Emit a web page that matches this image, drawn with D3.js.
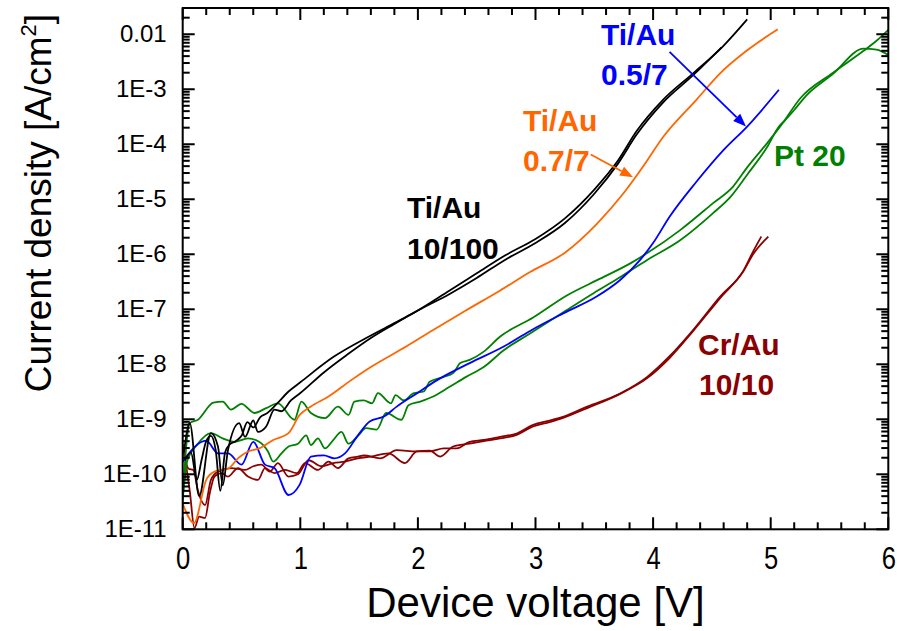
<!DOCTYPE html>
<html><head><meta charset="utf-8">
<script src="https://cdn.jsdelivr.net/npm/d3@7"></script>
<style>
html,body{margin:0;padding:0;background:#fff;}
svg{display:block;font-family:"Liberation Sans",Arial,Helvetica,sans-serif;}
</style></head>
<body>
<svg id="chart" width="897" height="631"></svg>
<script>
// ---------- data (voltage in V, current density in A/cm^2) ----------
const blackA_V = [0.02,0.07,0.12,0.16,0.2,0.24,0.28,0.32,0.36,0.4,0.45,0.5,0.55,0.6,0.66,0.72,0.8,0.9,1.0,1.28,1.56,1.8,1.96,2.27,2.5,2.74,3.0,3.25,3.5,3.7,3.86,4.08,4.34,4.59,4.8];
const blackA_J = [1.8e-10,2.5e-10,7.9e-11,1.8e-10,4.0e-10,5.0e-10,2.8e-10,5.0e-11,2.5e-10,3.5e-10,4.0e-10,5.0e-10,8.9e-10,7.1e-10,1.1e-9,1.3e-9,1.9e-9,3.2e-9,4.7e-9,1.35e-8,3.0e-8,5.6e-8,8.5e-8,2.2e-7,4.5e-7,9.5e-7,1.9e-6,4.5e-6,1.5e-5,5.0e-5,1.74e-4,6.3e-4,1.95e-3,5.9e-3,1.86e-2];

const blackB_V = [0.01,0.06,0.14,0.24,0.3,0.34,0.385,0.48,0.53,0.6,0.64,0.71,0.78,0.84,0.92,1.0,1.2,1.4,1.6,1.8,2.0,2.27,2.5,2.74,3.0,3.25,3.5,3.7,3.86,4.08,4.34,4.58];
const blackB_J = [2.5e-10,8.5e-10,4.0e-11,5.6e-10,3.2e-10,6.3e-11,2.75e-10,8.5e-10,4.8e-10,9.5e-10,5.9e-10,7.4e-10,1.5e-9,1.4e-9,2.2e-9,3.0e-9,7.1e-9,1.5e-8,3.0e-8,5.4e-8,9.5e-8,1.9e-7,3.7e-7,7.9e-7,1.6e-6,3.7e-6,1.26e-5,4.4e-5,1.5e-4,5.6e-4,1.8e-3,5.75e-3];

const orange_V = [0.0,0.096,0.2,0.27,0.385,0.47,0.555,0.65,0.77,0.9,0.995,1.09,1.24,1.43,1.6,1.9,2.13,2.4,2.7,2.95,3.25,3.52,3.75,3.9,4.09,4.37,4.57,4.8,5.06];
const orange_J = [2.95e-11,1.3e-11,7.9e-11,1.12e-10,1.26e-10,1.95e-10,2.6e-10,2.95e-10,4.2e-10,5.6e-10,1.2e-9,1.7e-9,2.6e-9,5.1e-9,8.9e-9,2.1e-8,4.2e-8,9.3e-8,2.2e-7,4.7e-7,1.07e-6,3.55e-6,1.3e-5,3.55e-5,1.4e-4,6.5e-4,1.95e-3,5.1e-3,1.23e-2];

const blue_V = [0.0,0.2,0.3,0.385,0.5,0.6,0.7,0.78,0.9,0.995,1.09,1.2,1.29,1.38,1.49,1.59,1.71,1.82,1.99,2.16,2.44,2.73,2.95,3.24,3.52,3.72,3.89,4.0,4.14,4.37,4.6,4.8,5.07];
const blue_J = [1.7e-10,4.1e-10,2.4e-10,2.4e-10,1.5e-10,3.9e-10,1.5e-10,1.3e-10,4.2e-11,6.5e-11,2.1e-10,2.2e-10,1.95e-10,2.4e-10,5.1e-10,9.1e-10,1.12e-9,1.7e-9,2.95e-9,5.1e-9,1.05e-8,2.1e-8,4.0e-8,8.5e-8,1.7e-7,3.4e-7,7.9e-7,1.6e-6,4.8e-6,2.1e-5,7.9e-5,2.1e-4,9.8e-4];

const greenA_V = [0.0,0.03,0.06,0.13,0.26,0.34,0.41,0.5,0.61,0.71,0.81,0.95,1.01,1.09,1.21,1.32,1.41,1.46,1.54,1.61,1.66,1.77,1.81,1.88,1.96,2.05,2.1,2.22,2.3,2.36,2.44,2.56,2.7,2.98,3.27,3.55,3.81,3.95,4.23,4.51,4.68,4.8,4.97,5.1,5.25,5.53,5.79,5.9,6.0];
const greenA_J = [3.2e-11,3.2e-10,8.5e-10,9.8e-10,2.0e-9,2.1e-9,1.5e-9,1.9e-9,1.3e-9,1.6e-9,1.95e-9,9.8e-10,2.1e-9,1.3e-9,1.05e-9,1.7e-9,1.2e-9,2.1e-9,2.2e-9,1.95e-9,3.0e-9,1.95e-9,2.75e-9,2.2e-9,2.95e-9,3.2e-9,4.8e-9,5.9e-9,6.9e-9,1.05e-8,1.2e-8,1.7e-8,3.2e-8,7.1e-8,1.8e-7,3.6e-7,6.9e-7,1.05e-6,2.75e-6,8.5e-6,1.7e-5,3.8e-5,1.05e-4,2.4e-4,6.8e-4,2.0e-3,5.0e-3,7.6e-3,1.2e-2];

const greenB_V = [0.0,0.04,0.12,0.24,0.34,0.44,0.555,0.65,0.725,0.77,0.84,0.9,0.98,1.05,1.09,1.15,1.21,1.28,1.35,1.41,1.49,1.56,1.65,1.73,1.86,1.92,2.02,2.13,2.27,2.41,2.56,2.73,2.95,3.24,3.5,3.66,3.95,4.23,4.51,4.66,4.8,4.97,5.07,5.12,5.2,5.3,5.53,5.79,5.9,6.0];
const greenB_J = [3.5e-11,1.8e-10,3.4e-10,5.6e-10,4.5e-10,3.9e-10,4.5e-10,3.9e-10,2.6e-10,1.7e-10,2.4e-10,3.2e-10,3.6e-10,5.1e-10,3.4e-10,4.5e-10,2.95e-10,4.2e-10,5.9e-10,3.6e-10,5.0e-10,6.9e-10,6.5e-10,1.3e-9,9.8e-10,1.8e-9,2.1e-9,2.6e-9,3.9e-9,5.9e-9,8.9e-9,1.8e-8,3.6e-8,8.9e-8,2.0e-7,3.2e-7,7.9e-7,1.8e-6,5.6e-6,1.12e-5,2.8e-5,8.9e-5,2.1e-4,2.7e-4,4.2e-4,7.6e-4,1.9e-3,5.5e-3,5.25e-3,4.2e-3];

const redA_V = [0.0,0.06,0.1,0.14,0.19,0.23,0.27,0.33,0.385,0.47,0.555,0.64,0.7,0.78,0.87,0.97,1.04,1.15,1.24,1.32,1.41,1.49,1.54,1.68,1.82,1.99,2.1,2.22,2.33,2.44,2.56,2.7,2.84,2.98,3.12,3.24,3.44,3.72,3.95,4.14,4.34,4.57,4.77,4.85,4.92];
const redA_J = [3.6e-10,5.0e-11,1.05e-11,1.7e-11,1.6e-11,4.5e-11,9.1e-11,1.05e-10,9.1e-11,1.3e-10,9.1e-11,7.9e-11,1.3e-10,1.05e-10,1.2e-10,1.05e-10,1.6e-10,1.2e-10,1.7e-10,1.3e-10,1.95e-10,2.1e-10,2.2e-10,1.95e-10,2.75e-10,2.6e-10,2.6e-10,2.95e-10,2.95e-10,3.9e-10,4.2e-10,4.8e-10,5.5e-10,7.9e-10,9.5e-10,1.12e-9,1.7e-9,2.95e-9,5.9e-9,1.4e-8,4.2e-8,1.7e-7,5.1e-7,1.12e-6,2.1e-6];

const redB_V = [0.0,0.05,0.09,0.13,0.19,0.24,0.3,0.41,0.53,0.6,0.67,0.74,0.81,0.9,0.98,1.07,1.18,1.28,1.38,1.49,1.6,1.75,1.89,1.99,2.1,2.19,2.3,2.44,2.56,2.7,2.84,2.98,3.12,3.24,3.44,3.72,3.95,4.14,4.34,4.57,4.77,4.85,4.98];
const redB_J = [3.2e-10,1.26e-10,1.2e-10,5.0e-11,2.75e-11,7.9e-11,1.12e-10,1.3e-10,1.2e-10,1.4e-10,1.5e-10,1.12e-10,1.6e-10,9.1e-11,1.0e-10,1.8e-10,1.4e-10,1.6e-10,1.7e-10,1.95e-10,2.1e-10,2.4e-10,1.6e-10,2.6e-10,2.7e-10,2.1e-10,3.2e-10,3.6e-10,4.0e-10,4.5e-10,5.2e-10,7.4e-10,8.9e-10,1.07e-9,1.6e-9,2.9e-9,5.6e-9,1.3e-8,4.0e-8,1.6e-7,5.0e-7,1.0e-6,2.1e-6];

const xTickValues = [0,1,2,3,4,5,6];
const xTickLabels = ["0","1","2","3","4","5","6"];
const yTickValues = [1e-2,1e-3,1e-4,1e-5,1e-6,1e-7,1e-8,1e-9,1e-10,1e-11];
const yTickLabels = ["0.01","1E-3","1E-4","1E-5","1E-6","1E-7","1E-8","1E-9","1E-10","1E-11"];

// ---------- layout ----------
const L = 182.7, R = 888.3, T = 8, B = 529.3;
const svg = d3.select("#chart");
const x = d3.scaleLinear().domain([0, 6]).range([L, R]);
const y = d3.scaleLog().domain([1e-11, 0.03]).range([B, T]);

const xMinor = d3.range(0, 6.0001, 0.2).filter(v => Math.abs(v - Math.round(v)) > 1e-6);
const yMinor = [];
for (let e = -11; e <= -2; e++) for (let m = 2; m <= 9; m++) { const v = m * Math.pow(10, e); if (v <= 0.03) yMinor.push(v); }

svg.append("defs").append("clipPath").attr("id","clip")
  .append("rect").attr("x", L).attr("y", T).attr("width", R - L).attr("height", B - T);

// curves
const line = d3.line().x(d => x(d[0])).y(d => y(d[1])).curve(d3.curveMonotoneX);
const curves = [
  {V: redA_V, J: redA_J, c: "#8b0000"},
  {V: redB_V, J: redB_J, c: "#8b0000"},
  {V: greenA_V, J: greenA_J, c: "#008000"},
  {V: greenB_V, J: greenB_J, c: "#008000"},
  {V: blue_V, J: blue_J, c: "#0000ff"},
  {V: orange_V, J: orange_J, c: "#ff6600"},
  {V: blackA_V, J: blackA_J, c: "#000000"},
  {V: blackB_V, J: blackB_J, c: "#000000"}
];
const g = svg.append("g").attr("clip-path", "url(#clip)");
curves.forEach(cv => {
  g.append("path").datum(cv.V.map((v, i) => [v, cv.J[i]]))
    .attr("d", line).attr("fill", "none").attr("stroke", cv.c)
    .attr("stroke-width", 1.8).attr("stroke-linejoin", "round");
});

// frame
svg.append("rect").attr("x", L).attr("y", T).attr("width", R - L).attr("height", B - T)
  .attr("fill", "none").attr("stroke", "#000").attr("stroke-width", 2);

// ---------- ticks (positions from the scales, pointing inward) ----------
const tw = 2;
const tg = svg.append("g");
xTickValues.concat(xMinor).forEach(v => {
  const len = xTickValues.includes(v) ? 12 : 7;
  const px = x(v);
  tg.append("rect").attr("x", px - tw / 2).attr("y", B - len).attr("width", tw).attr("height", len).style("fill", "#000");
  tg.append("rect").attr("x", px - tw / 2).attr("y", T).attr("width", tw).attr("height", len).style("fill", "#000");
});
yTickValues.concat(yMinor).forEach(v => {
  const len = yTickValues.includes(v) ? 12 : 7;
  const py = y(v);
  tg.append("rect").attr("x", L).attr("y", py - tw / 2).attr("width", len).attr("height", tw).style("fill", "#000");
  tg.append("rect").attr("x", R - len).attr("y", py - tw / 2).attr("width", len).attr("height", tw).style("fill", "#000");
});

// ---------- tick labels via d3 axes (lines hidden) ----------
const xa = svg.append("g").attr("transform", `translate(0,${B})`)
  .call(d3.axisBottom(x).tickValues(xTickValues).tickSize(0).tickFormat((d, i) => xTickLabels[i]));
xa.select(".domain").remove();
xa.selectAll("text").attr("font-size", 32).attr("fill", "#000")
  .attr("font-family", "'Liberation Sans',Arial,sans-serif")
  .attr("y", 40).attr("dy", null).attr("transform", "scale(0.8,1)");

const ya = svg.append("g").attr("transform", `translate(${L},0)`)
  .call(d3.axisLeft(y).tickValues(yTickValues).tickSize(0).tickPadding(16).tickFormat((d, i) => yTickLabels[i]));
ya.select(".domain").remove();
ya.selectAll("text").attr("font-size", 24).attr("fill", "#000")
  .attr("font-family", "'Liberation Sans',Arial,sans-serif");

// axis titles
svg.append("text").attr("x", (L + R) / 2).attr("y", 617).attr("text-anchor", "middle")
  .attr("font-size", 42).attr("fill", "#000").text("Device voltage [V]");
const yt = svg.append("text").attr("transform", "translate(51,203) rotate(-90)")
  .attr("text-anchor", "middle").attr("font-size", 37).attr("fill", "#000");
yt.append("tspan").text("Current density [A/cm");
yt.append("tspan").attr("font-size", 22).attr("dy", -15).text("2");
yt.append("tspan").attr("dy", 15).text("]");

// annotations
const ann = [
  {t: "Ti/Au", x: 407, y: 218, c: "#000000"},
  {t: "10/100", x: 407, y: 259, c: "#000000"},
  {t: "Ti/Au", x: 523, y: 131, c: "#ff6600"},
  {t: "0.7/7", x: 523, y: 171, c: "#ff6600"},
  {t: "Ti/Au", x: 601, y: 45, c: "#0000ff"},
  {t: "0.5/7", x: 601, y: 85, c: "#0000ff"},
  {t: "Pt 20", x: 774, y: 166, c: "#008000"},
  {t: "Cr/Au", x: 698, y: 355, c: "#8b0000"},
  {t: "10/10", x: 699, y: 395, c: "#8b0000"}
];
svg.selectAll("text.ann").data(ann).join("text").attr("class", "ann")
  .attr("x", d => d.x).attr("y", d => d.y).attr("fill", d => d.c)
  .attr("font-size", 30).attr("font-weight", "bold").text(d => d.t);

// arrows (from label toward curve)
function arrow(x1, y1, x2, y2, c) {
  const ang = Math.atan2(y2 - y1, x2 - x1), hl = 13, hw = 5;
  const bx = x2 - hl * Math.cos(ang), by = y2 - hl * Math.sin(ang);
  svg.append("line").attr("x1", x1).attr("y1", y1).attr("x2", bx).attr("y2", by)
    .attr("stroke", c).attr("stroke-width", 1.8);
  const px = -Math.sin(ang) * hw, py = Math.cos(ang) * hw;
  svg.append("path").attr("d", `M${x2},${y2}L${bx + px},${by + py}L${bx - px},${by - py}Z`).attr("fill", c);
}
arrow(x(3.47), y(6.5e-5), x(3.83), y(2.5e-5), "#ff6600");
arrow(x(4.14), y(4.8e-3), x(4.79), y(2.1e-4), "#0000ff");
</script>
</body></html>
